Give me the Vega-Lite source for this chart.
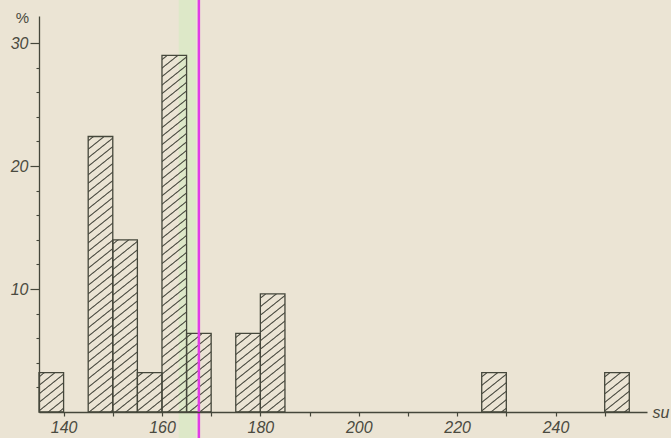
{
"$schema": "https://vega.github.io/schema/vega-lite/v6.json",
"width": 608, "height": 396,
"autosize": {"type": "none"},
"padding": {"left": 39, "top": 16, "right": 24, "bottom": 26},
"background": "#ebe4d4",
"config": {"view": {"stroke": null}},
"datasets": {
"bins": [
{"bin_start": 135, "bin_end": 140, "pct": 3.2},
{"bin_start": 145, "bin_end": 150, "pct": 22.4},
{"bin_start": 150, "bin_end": 155, "pct": 14},
{"bin_start": 155, "bin_end": 160, "pct": 3.2},
{"bin_start": 160, "bin_end": 165, "pct": 29},
{"bin_start": 165, "bin_end": 170, "pct": 6.4},
{"bin_start": 175, "bin_end": 180, "pct": 6.4},
{"bin_start": 180, "bin_end": 185, "pct": 9.6},
{"bin_start": 225, "bin_end": 230, "pct": 3.2},
{"bin_start": 250, "bin_end": 255, "pct": 3.2}
],
"band": [{"lo": 163.4, "hi": 166.9}],
"mean": [{"value": 167.5}]
},
"data": {"name": "bins"},
"resolve": {"axis": {"y": "independent"}},
"layer": [
{
"data": {"name": "band"},
"mark": {"type": "rect", "fill": "#dde8c8", "clip": false},
"encoding": {
"x": {"field": "lo", "type": "quantitative", "scale": {"domain": [135, 258.6], "nice": false, "zero": false},
"axis": {"values": [140, 145, 150, 155, 160, 165, 170, 175, 180, 185, 190, 195, 200, 205, 210, 215, 220, 225, 230, 235, 240, 245, 250, 255],
"labelExpr": "datum.value % 20 == 0 ? datum.label : ''", "labelOverlap": false, "labelFlush": false, "grid": false,
"tickSize": 4, "tickWidth": 1.2, "tickColor": "#45473b", "domainColor": "#45473b", "domainWidth": 1.3,
"labelFont": "Liberation Sans", "labelFontStyle": "italic", "labelFontSize": 16, "labelColor": "#4a4a40", "labelPadding": 3,
"title": "su", "titleX": 613, "titleY": 0, "titleAlign": "left", "titleBaseline": "middle", "titleAngle": 0,
"titleFont": "Liberation Sans", "titleFontStyle": "italic", "titleFontWeight": "normal", "titleFontSize": 16, "titleColor": "#4a4a40", "zindex": 1}},
"x2": {"field": "hi"},
"y": {"datum": 33.6, "type": "quantitative", "scale": {"domain": [0, 32.2], "nice": false, "zero": false}, "axis": null},
"y2": {"datum": -2.2}
}
},
{
"transform": [{"filter": "datum.pct == 3.2"}],
"mark": {"type": "rect", "stroke": "#45473b", "strokeWidth": 1.3, "fill": {"gradient": "linear", "x1": 0, "y1": 0, "x2": 4.32, "y2": 8.639, "stops": [
{"offset":0.00718,"color":"transparent"},{"offset":0.01,"color":"#4a4d40"},{"offset":0.01282,"color":"transparent"},
{"offset":0.02718,"color":"transparent"},{"offset":0.03,"color":"#4a4d40"},{"offset":0.03282,"color":"transparent"},
{"offset":0.04718,"color":"transparent"},{"offset":0.05,"color":"#4a4d40"},{"offset":0.05282,"color":"transparent"},
{"offset":0.06718,"color":"transparent"},{"offset":0.07,"color":"#4a4d40"},{"offset":0.07282,"color":"transparent"},
{"offset":0.08718,"color":"transparent"},{"offset":0.09,"color":"#4a4d40"},{"offset":0.09282,"color":"transparent"},
{"offset":0.10718,"color":"transparent"},{"offset":0.11,"color":"#4a4d40"},{"offset":0.11282,"color":"transparent"},
{"offset":0.12718,"color":"transparent"},{"offset":0.13,"color":"#4a4d40"},{"offset":0.13282,"color":"transparent"}
]}},
"encoding": {
"x": {"field": "bin_start", "type": "quantitative", "scale": {"domain": [135, 258.6], "nice": false, "zero": false}},
"x2": {"field": "bin_end"},
"y": {"field": "pct", "type": "quantitative", "scale": {"domain": [0, 32.2], "nice": false, "zero": false},
"axis": {"orient": "left", "values": [2, 4, 6, 8, 12, 14, 16, 18, 22, 24, 26, 28], "grid": false, "domain": false, "labels": false, "title": null, "tickSize": 3, "tickWidth": 1.1, "tickColor": "#45473b", "zindex": 1}},
"y2": {"datum": 0}
}
},
{
"transform": [{"filter": "datum.pct == 6.4"}],
"mark": {"type": "rect", "stroke": "#45473b", "strokeWidth": 1.3, "fill": {"gradient": "linear", "x1": 0, "y1": 0, "x2": 1.2704, "y2": 5.0819, "stops": [
{"offset":0.00718,"color":"transparent"},{"offset":0.01,"color":"#4a4d40"},{"offset":0.01282,"color":"transparent"},
{"offset":0.02718,"color":"transparent"},{"offset":0.03,"color":"#4a4d40"},{"offset":0.03282,"color":"transparent"},
{"offset":0.04718,"color":"transparent"},{"offset":0.05,"color":"#4a4d40"},{"offset":0.05282,"color":"transparent"},
{"offset":0.06718,"color":"transparent"},{"offset":0.07,"color":"#4a4d40"},{"offset":0.07282,"color":"transparent"},
{"offset":0.08718,"color":"transparent"},{"offset":0.09,"color":"#4a4d40"},{"offset":0.09282,"color":"transparent"},
{"offset":0.10718,"color":"transparent"},{"offset":0.11,"color":"#4a4d40"},{"offset":0.11282,"color":"transparent"},
{"offset":0.12718,"color":"transparent"},{"offset":0.13,"color":"#4a4d40"},{"offset":0.13282,"color":"transparent"},
{"offset":0.14718,"color":"transparent"},{"offset":0.15,"color":"#4a4d40"},{"offset":0.15282,"color":"transparent"},
{"offset":0.16718,"color":"transparent"},{"offset":0.17,"color":"#4a4d40"},{"offset":0.17282,"color":"transparent"},
{"offset":0.18718,"color":"transparent"},{"offset":0.19,"color":"#4a4d40"},{"offset":0.19282,"color":"transparent"},
{"offset":0.20718,"color":"transparent"},{"offset":0.21,"color":"#4a4d40"},{"offset":0.21282,"color":"transparent"},
{"offset":0.22718,"color":"transparent"},{"offset":0.23,"color":"#4a4d40"},{"offset":0.23282,"color":"transparent"}
]}},
"encoding": {
"x": {"field": "bin_start", "type": "quantitative", "scale": {"domain": [135, 258.6], "nice": false, "zero": false}},
"x2": {"field": "bin_end"},
"y": {"field": "pct", "type": "quantitative", "scale": {"domain": [0, 32.2], "nice": false, "zero": false}, "axis": null},
"y2": {"datum": 0}
}
},
{
"transform": [{"filter": "datum.pct == 9.6"}],
"mark": {"type": "rect", "stroke": "#45473b", "strokeWidth": 1.3, "fill": {"gradient": "linear", "x1": 0, "y1": 0, "x2": 0.58377, "y2": 3.5026, "stops": [
{"offset":0.00718,"color":"transparent"},{"offset":0.01,"color":"#4a4d40"},{"offset":0.01282,"color":"transparent"},
{"offset":0.02718,"color":"transparent"},{"offset":0.03,"color":"#4a4d40"},{"offset":0.03282,"color":"transparent"},
{"offset":0.04718,"color":"transparent"},{"offset":0.05,"color":"#4a4d40"},{"offset":0.05282,"color":"transparent"},
{"offset":0.06718,"color":"transparent"},{"offset":0.07,"color":"#4a4d40"},{"offset":0.07282,"color":"transparent"},
{"offset":0.08718,"color":"transparent"},{"offset":0.09,"color":"#4a4d40"},{"offset":0.09282,"color":"transparent"},
{"offset":0.10718,"color":"transparent"},{"offset":0.11,"color":"#4a4d40"},{"offset":0.11282,"color":"transparent"},
{"offset":0.12718,"color":"transparent"},{"offset":0.13,"color":"#4a4d40"},{"offset":0.13282,"color":"transparent"},
{"offset":0.14718,"color":"transparent"},{"offset":0.15,"color":"#4a4d40"},{"offset":0.15282,"color":"transparent"},
{"offset":0.16718,"color":"transparent"},{"offset":0.17,"color":"#4a4d40"},{"offset":0.17282,"color":"transparent"},
{"offset":0.18718,"color":"transparent"},{"offset":0.19,"color":"#4a4d40"},{"offset":0.19282,"color":"transparent"},
{"offset":0.20718,"color":"transparent"},{"offset":0.21,"color":"#4a4d40"},{"offset":0.21282,"color":"transparent"},
{"offset":0.22718,"color":"transparent"},{"offset":0.23,"color":"#4a4d40"},{"offset":0.23282,"color":"transparent"},
{"offset":0.24718,"color":"transparent"},{"offset":0.25,"color":"#4a4d40"},{"offset":0.25282,"color":"transparent"},
{"offset":0.26718,"color":"transparent"},{"offset":0.27,"color":"#4a4d40"},{"offset":0.27282,"color":"transparent"},
{"offset":0.28718,"color":"transparent"},{"offset":0.29,"color":"#4a4d40"},{"offset":0.29282,"color":"transparent"},
{"offset":0.30718,"color":"transparent"},{"offset":0.31,"color":"#4a4d40"},{"offset":0.31282,"color":"transparent"}
]}},
"encoding": {
"x": {"field": "bin_start", "type": "quantitative", "scale": {"domain": [135, 258.6], "nice": false, "zero": false}},
"x2": {"field": "bin_end"},
"y": {"field": "pct", "type": "quantitative", "scale": {"domain": [0, 32.2], "nice": false, "zero": false}, "axis": null},
"y2": {"datum": 0}
}
},
{
"transform": [{"filter": "datum.pct == 14"}],
"mark": {"type": "rect", "stroke": "#45473b", "strokeWidth": 1.3, "fill": {"gradient": "linear", "x1": 0, "y1": 0, "x2": 0.27848, "y2": 2.4367, "stops": [
{"offset":0.00718,"color":"transparent"},{"offset":0.01,"color":"#4a4d40"},{"offset":0.01282,"color":"transparent"},
{"offset":0.02718,"color":"transparent"},{"offset":0.03,"color":"#4a4d40"},{"offset":0.03282,"color":"transparent"},
{"offset":0.04718,"color":"transparent"},{"offset":0.05,"color":"#4a4d40"},{"offset":0.05282,"color":"transparent"},
{"offset":0.06718,"color":"transparent"},{"offset":0.07,"color":"#4a4d40"},{"offset":0.07282,"color":"transparent"},
{"offset":0.08718,"color":"transparent"},{"offset":0.09,"color":"#4a4d40"},{"offset":0.09282,"color":"transparent"},
{"offset":0.10718,"color":"transparent"},{"offset":0.11,"color":"#4a4d40"},{"offset":0.11282,"color":"transparent"},
{"offset":0.12718,"color":"transparent"},{"offset":0.13,"color":"#4a4d40"},{"offset":0.13282,"color":"transparent"},
{"offset":0.14718,"color":"transparent"},{"offset":0.15,"color":"#4a4d40"},{"offset":0.15282,"color":"transparent"},
{"offset":0.16718,"color":"transparent"},{"offset":0.17,"color":"#4a4d40"},{"offset":0.17282,"color":"transparent"},
{"offset":0.18718,"color":"transparent"},{"offset":0.19,"color":"#4a4d40"},{"offset":0.19282,"color":"transparent"},
{"offset":0.20718,"color":"transparent"},{"offset":0.21,"color":"#4a4d40"},{"offset":0.21282,"color":"transparent"},
{"offset":0.22718,"color":"transparent"},{"offset":0.23,"color":"#4a4d40"},{"offset":0.23282,"color":"transparent"},
{"offset":0.24718,"color":"transparent"},{"offset":0.25,"color":"#4a4d40"},{"offset":0.25282,"color":"transparent"},
{"offset":0.26718,"color":"transparent"},{"offset":0.27,"color":"#4a4d40"},{"offset":0.27282,"color":"transparent"},
{"offset":0.28718,"color":"transparent"},{"offset":0.29,"color":"#4a4d40"},{"offset":0.29282,"color":"transparent"},
{"offset":0.30718,"color":"transparent"},{"offset":0.31,"color":"#4a4d40"},{"offset":0.31282,"color":"transparent"},
{"offset":0.32718,"color":"transparent"},{"offset":0.33,"color":"#4a4d40"},{"offset":0.33282,"color":"transparent"},
{"offset":0.34718,"color":"transparent"},{"offset":0.35,"color":"#4a4d40"},{"offset":0.35282,"color":"transparent"},
{"offset":0.36718,"color":"transparent"},{"offset":0.37,"color":"#4a4d40"},{"offset":0.37282,"color":"transparent"},
{"offset":0.38718,"color":"transparent"},{"offset":0.39,"color":"#4a4d40"},{"offset":0.39282,"color":"transparent"},
{"offset":0.40718,"color":"transparent"},{"offset":0.41,"color":"#4a4d40"},{"offset":0.41282,"color":"transparent"},
{"offset":0.42718,"color":"transparent"},{"offset":0.43,"color":"#4a4d40"},{"offset":0.43282,"color":"transparent"},
{"offset":0.44718,"color":"transparent"},{"offset":0.45,"color":"#4a4d40"},{"offset":0.45282,"color":"transparent"}
]}},
"encoding": {
"x": {"field": "bin_start", "type": "quantitative", "scale": {"domain": [135, 258.6], "nice": false, "zero": false}},
"x2": {"field": "bin_end"},
"y": {"field": "pct", "type": "quantitative", "scale": {"domain": [0, 32.2], "nice": false, "zero": false}, "axis": null},
"y2": {"datum": 0}
}
},
{
"transform": [{"filter": "datum.pct == 22.4"}],
"mark": {"type": "rect", "stroke": "#45473b", "strokeWidth": 1.3, "fill": {"gradient": "linear", "x1": 0, "y1": 0, "x2": 0.10964, "y2": 1.5349, "stops": [
{"offset":0.00718,"color":"transparent"},{"offset":0.01,"color":"#4a4d40"},{"offset":0.01282,"color":"transparent"},
{"offset":0.02718,"color":"transparent"},{"offset":0.03,"color":"#4a4d40"},{"offset":0.03282,"color":"transparent"},
{"offset":0.04718,"color":"transparent"},{"offset":0.05,"color":"#4a4d40"},{"offset":0.05282,"color":"transparent"},
{"offset":0.06718,"color":"transparent"},{"offset":0.07,"color":"#4a4d40"},{"offset":0.07282,"color":"transparent"},
{"offset":0.08718,"color":"transparent"},{"offset":0.09,"color":"#4a4d40"},{"offset":0.09282,"color":"transparent"},
{"offset":0.10718,"color":"transparent"},{"offset":0.11,"color":"#4a4d40"},{"offset":0.11282,"color":"transparent"},
{"offset":0.12718,"color":"transparent"},{"offset":0.13,"color":"#4a4d40"},{"offset":0.13282,"color":"transparent"},
{"offset":0.14718,"color":"transparent"},{"offset":0.15,"color":"#4a4d40"},{"offset":0.15282,"color":"transparent"},
{"offset":0.16718,"color":"transparent"},{"offset":0.17,"color":"#4a4d40"},{"offset":0.17282,"color":"transparent"},
{"offset":0.18718,"color":"transparent"},{"offset":0.19,"color":"#4a4d40"},{"offset":0.19282,"color":"transparent"},
{"offset":0.20718,"color":"transparent"},{"offset":0.21,"color":"#4a4d40"},{"offset":0.21282,"color":"transparent"},
{"offset":0.22718,"color":"transparent"},{"offset":0.23,"color":"#4a4d40"},{"offset":0.23282,"color":"transparent"},
{"offset":0.24718,"color":"transparent"},{"offset":0.25,"color":"#4a4d40"},{"offset":0.25282,"color":"transparent"},
{"offset":0.26718,"color":"transparent"},{"offset":0.27,"color":"#4a4d40"},{"offset":0.27282,"color":"transparent"},
{"offset":0.28718,"color":"transparent"},{"offset":0.29,"color":"#4a4d40"},{"offset":0.29282,"color":"transparent"},
{"offset":0.30718,"color":"transparent"},{"offset":0.31,"color":"#4a4d40"},{"offset":0.31282,"color":"transparent"},
{"offset":0.32718,"color":"transparent"},{"offset":0.33,"color":"#4a4d40"},{"offset":0.33282,"color":"transparent"},
{"offset":0.34718,"color":"transparent"},{"offset":0.35,"color":"#4a4d40"},{"offset":0.35282,"color":"transparent"},
{"offset":0.36718,"color":"transparent"},{"offset":0.37,"color":"#4a4d40"},{"offset":0.37282,"color":"transparent"},
{"offset":0.38718,"color":"transparent"},{"offset":0.39,"color":"#4a4d40"},{"offset":0.39282,"color":"transparent"},
{"offset":0.40718,"color":"transparent"},{"offset":0.41,"color":"#4a4d40"},{"offset":0.41282,"color":"transparent"},
{"offset":0.42718,"color":"transparent"},{"offset":0.43,"color":"#4a4d40"},{"offset":0.43282,"color":"transparent"},
{"offset":0.44718,"color":"transparent"},{"offset":0.45,"color":"#4a4d40"},{"offset":0.45282,"color":"transparent"},
{"offset":0.46718,"color":"transparent"},{"offset":0.47,"color":"#4a4d40"},{"offset":0.47282,"color":"transparent"},
{"offset":0.48718,"color":"transparent"},{"offset":0.49,"color":"#4a4d40"},{"offset":0.49282,"color":"transparent"},
{"offset":0.50718,"color":"transparent"},{"offset":0.51,"color":"#4a4d40"},{"offset":0.51282,"color":"transparent"},
{"offset":0.52718,"color":"transparent"},{"offset":0.53,"color":"#4a4d40"},{"offset":0.53282,"color":"transparent"},
{"offset":0.54718,"color":"transparent"},{"offset":0.55,"color":"#4a4d40"},{"offset":0.55282,"color":"transparent"},
{"offset":0.56718,"color":"transparent"},{"offset":0.57,"color":"#4a4d40"},{"offset":0.57282,"color":"transparent"},
{"offset":0.58718,"color":"transparent"},{"offset":0.59,"color":"#4a4d40"},{"offset":0.59282,"color":"transparent"},
{"offset":0.60718,"color":"transparent"},{"offset":0.61,"color":"#4a4d40"},{"offset":0.61282,"color":"transparent"},
{"offset":0.62718,"color":"transparent"},{"offset":0.63,"color":"#4a4d40"},{"offset":0.63282,"color":"transparent"},
{"offset":0.64718,"color":"transparent"},{"offset":0.65,"color":"#4a4d40"},{"offset":0.65282,"color":"transparent"},
{"offset":0.66718,"color":"transparent"},{"offset":0.67,"color":"#4a4d40"},{"offset":0.67282,"color":"transparent"},
{"offset":0.68718,"color":"transparent"},{"offset":0.69,"color":"#4a4d40"},{"offset":0.69282,"color":"transparent"}
]}},
"encoding": {
"x": {"field": "bin_start", "type": "quantitative", "scale": {"domain": [135, 258.6], "nice": false, "zero": false}},
"x2": {"field": "bin_end"},
"y": {"field": "pct", "type": "quantitative", "scale": {"domain": [0, 32.2], "nice": false, "zero": false}, "axis": null},
"y2": {"datum": 0}
}
},
{
"transform": [{"filter": "datum.pct == 29"}],
"mark": {"type": "rect", "stroke": "#45473b", "strokeWidth": 1.3, "fill": {"gradient": "linear", "x1": 0, "y1": 0, "x2": 0.065549, "y2": 1.18807, "stops": [
{"offset":0.00718,"color":"transparent"},{"offset":0.01,"color":"#4a4d40"},{"offset":0.01282,"color":"transparent"},
{"offset":0.02718,"color":"transparent"},{"offset":0.03,"color":"#4a4d40"},{"offset":0.03282,"color":"transparent"},
{"offset":0.04718,"color":"transparent"},{"offset":0.05,"color":"#4a4d40"},{"offset":0.05282,"color":"transparent"},
{"offset":0.06718,"color":"transparent"},{"offset":0.07,"color":"#4a4d40"},{"offset":0.07282,"color":"transparent"},
{"offset":0.08718,"color":"transparent"},{"offset":0.09,"color":"#4a4d40"},{"offset":0.09282,"color":"transparent"},
{"offset":0.10718,"color":"transparent"},{"offset":0.11,"color":"#4a4d40"},{"offset":0.11282,"color":"transparent"},
{"offset":0.12718,"color":"transparent"},{"offset":0.13,"color":"#4a4d40"},{"offset":0.13282,"color":"transparent"},
{"offset":0.14718,"color":"transparent"},{"offset":0.15,"color":"#4a4d40"},{"offset":0.15282,"color":"transparent"},
{"offset":0.16718,"color":"transparent"},{"offset":0.17,"color":"#4a4d40"},{"offset":0.17282,"color":"transparent"},
{"offset":0.18718,"color":"transparent"},{"offset":0.19,"color":"#4a4d40"},{"offset":0.19282,"color":"transparent"},
{"offset":0.20718,"color":"transparent"},{"offset":0.21,"color":"#4a4d40"},{"offset":0.21282,"color":"transparent"},
{"offset":0.22718,"color":"transparent"},{"offset":0.23,"color":"#4a4d40"},{"offset":0.23282,"color":"transparent"},
{"offset":0.24718,"color":"transparent"},{"offset":0.25,"color":"#4a4d40"},{"offset":0.25282,"color":"transparent"},
{"offset":0.26718,"color":"transparent"},{"offset":0.27,"color":"#4a4d40"},{"offset":0.27282,"color":"transparent"},
{"offset":0.28718,"color":"transparent"},{"offset":0.29,"color":"#4a4d40"},{"offset":0.29282,"color":"transparent"},
{"offset":0.30718,"color":"transparent"},{"offset":0.31,"color":"#4a4d40"},{"offset":0.31282,"color":"transparent"},
{"offset":0.32718,"color":"transparent"},{"offset":0.33,"color":"#4a4d40"},{"offset":0.33282,"color":"transparent"},
{"offset":0.34718,"color":"transparent"},{"offset":0.35,"color":"#4a4d40"},{"offset":0.35282,"color":"transparent"},
{"offset":0.36718,"color":"transparent"},{"offset":0.37,"color":"#4a4d40"},{"offset":0.37282,"color":"transparent"},
{"offset":0.38718,"color":"transparent"},{"offset":0.39,"color":"#4a4d40"},{"offset":0.39282,"color":"transparent"},
{"offset":0.40718,"color":"transparent"},{"offset":0.41,"color":"#4a4d40"},{"offset":0.41282,"color":"transparent"},
{"offset":0.42718,"color":"transparent"},{"offset":0.43,"color":"#4a4d40"},{"offset":0.43282,"color":"transparent"},
{"offset":0.44718,"color":"transparent"},{"offset":0.45,"color":"#4a4d40"},{"offset":0.45282,"color":"transparent"},
{"offset":0.46718,"color":"transparent"},{"offset":0.47,"color":"#4a4d40"},{"offset":0.47282,"color":"transparent"},
{"offset":0.48718,"color":"transparent"},{"offset":0.49,"color":"#4a4d40"},{"offset":0.49282,"color":"transparent"},
{"offset":0.50718,"color":"transparent"},{"offset":0.51,"color":"#4a4d40"},{"offset":0.51282,"color":"transparent"},
{"offset":0.52718,"color":"transparent"},{"offset":0.53,"color":"#4a4d40"},{"offset":0.53282,"color":"transparent"},
{"offset":0.54718,"color":"transparent"},{"offset":0.55,"color":"#4a4d40"},{"offset":0.55282,"color":"transparent"},
{"offset":0.56718,"color":"transparent"},{"offset":0.57,"color":"#4a4d40"},{"offset":0.57282,"color":"transparent"},
{"offset":0.58718,"color":"transparent"},{"offset":0.59,"color":"#4a4d40"},{"offset":0.59282,"color":"transparent"},
{"offset":0.60718,"color":"transparent"},{"offset":0.61,"color":"#4a4d40"},{"offset":0.61282,"color":"transparent"},
{"offset":0.62718,"color":"transparent"},{"offset":0.63,"color":"#4a4d40"},{"offset":0.63282,"color":"transparent"},
{"offset":0.64718,"color":"transparent"},{"offset":0.65,"color":"#4a4d40"},{"offset":0.65282,"color":"transparent"},
{"offset":0.66718,"color":"transparent"},{"offset":0.67,"color":"#4a4d40"},{"offset":0.67282,"color":"transparent"},
{"offset":0.68718,"color":"transparent"},{"offset":0.69,"color":"#4a4d40"},{"offset":0.69282,"color":"transparent"},
{"offset":0.70718,"color":"transparent"},{"offset":0.71,"color":"#4a4d40"},{"offset":0.71282,"color":"transparent"},
{"offset":0.72718,"color":"transparent"},{"offset":0.73,"color":"#4a4d40"},{"offset":0.73282,"color":"transparent"},
{"offset":0.74718,"color":"transparent"},{"offset":0.75,"color":"#4a4d40"},{"offset":0.75282,"color":"transparent"},
{"offset":0.76718,"color":"transparent"},{"offset":0.77,"color":"#4a4d40"},{"offset":0.77282,"color":"transparent"},
{"offset":0.78718,"color":"transparent"},{"offset":0.79,"color":"#4a4d40"},{"offset":0.79282,"color":"transparent"},
{"offset":0.80718,"color":"transparent"},{"offset":0.81,"color":"#4a4d40"},{"offset":0.81282,"color":"transparent"},
{"offset":0.82718,"color":"transparent"},{"offset":0.83,"color":"#4a4d40"},{"offset":0.83282,"color":"transparent"},
{"offset":0.84718,"color":"transparent"},{"offset":0.85,"color":"#4a4d40"},{"offset":0.85282,"color":"transparent"},
{"offset":0.86718,"color":"transparent"},{"offset":0.87,"color":"#4a4d40"},{"offset":0.87282,"color":"transparent"}
]}},
"encoding": {
"x": {"field": "bin_start", "type": "quantitative", "scale": {"domain": [135, 258.6], "nice": false, "zero": false}},
"x2": {"field": "bin_end"},
"y": {"field": "pct", "type": "quantitative", "scale": {"domain": [0, 32.2], "nice": false, "zero": false},
"axis": {"orient": "left", "values": [10, 20, 30], "grid": false, "tickSize": 9, "tickWidth": 1.2, "tickColor": "#45473b",
"domainColor": "#45473b", "domainWidth": 1.3,
"labelFont": "Liberation Sans", "labelFontStyle": "italic", "labelFontSize": 16, "labelColor": "#4a4a40", "labelPadding": 2,
"title": "%", "titleAngle": 0, "titleX": -17, "titleY": 1, "titleAlign": "center", "titleBaseline": "middle",
"titleFont": "Liberation Sans", "titleFontStyle": "normal", "titleFontWeight": "normal", "titleFontSize": 15, "titleColor": "#4a4a40", "zindex": 1}},
"y2": {"datum": 0}
}
},
{
"data": {"name": "mean"},
"mark": {"type": "rule", "color": "#e03ce6", "strokeWidth": 2.5, "clip": false},
"encoding": {
"x": {"field": "value", "type": "quantitative", "scale": {"domain": [135, 258.6], "nice": false, "zero": false}},
"y": {"datum": 33.6, "type": "quantitative", "scale": {"domain": [0, 32.2], "nice": false, "zero": false}, "axis": null},
"y2": {"datum": -2.2}
}
}
]
}
